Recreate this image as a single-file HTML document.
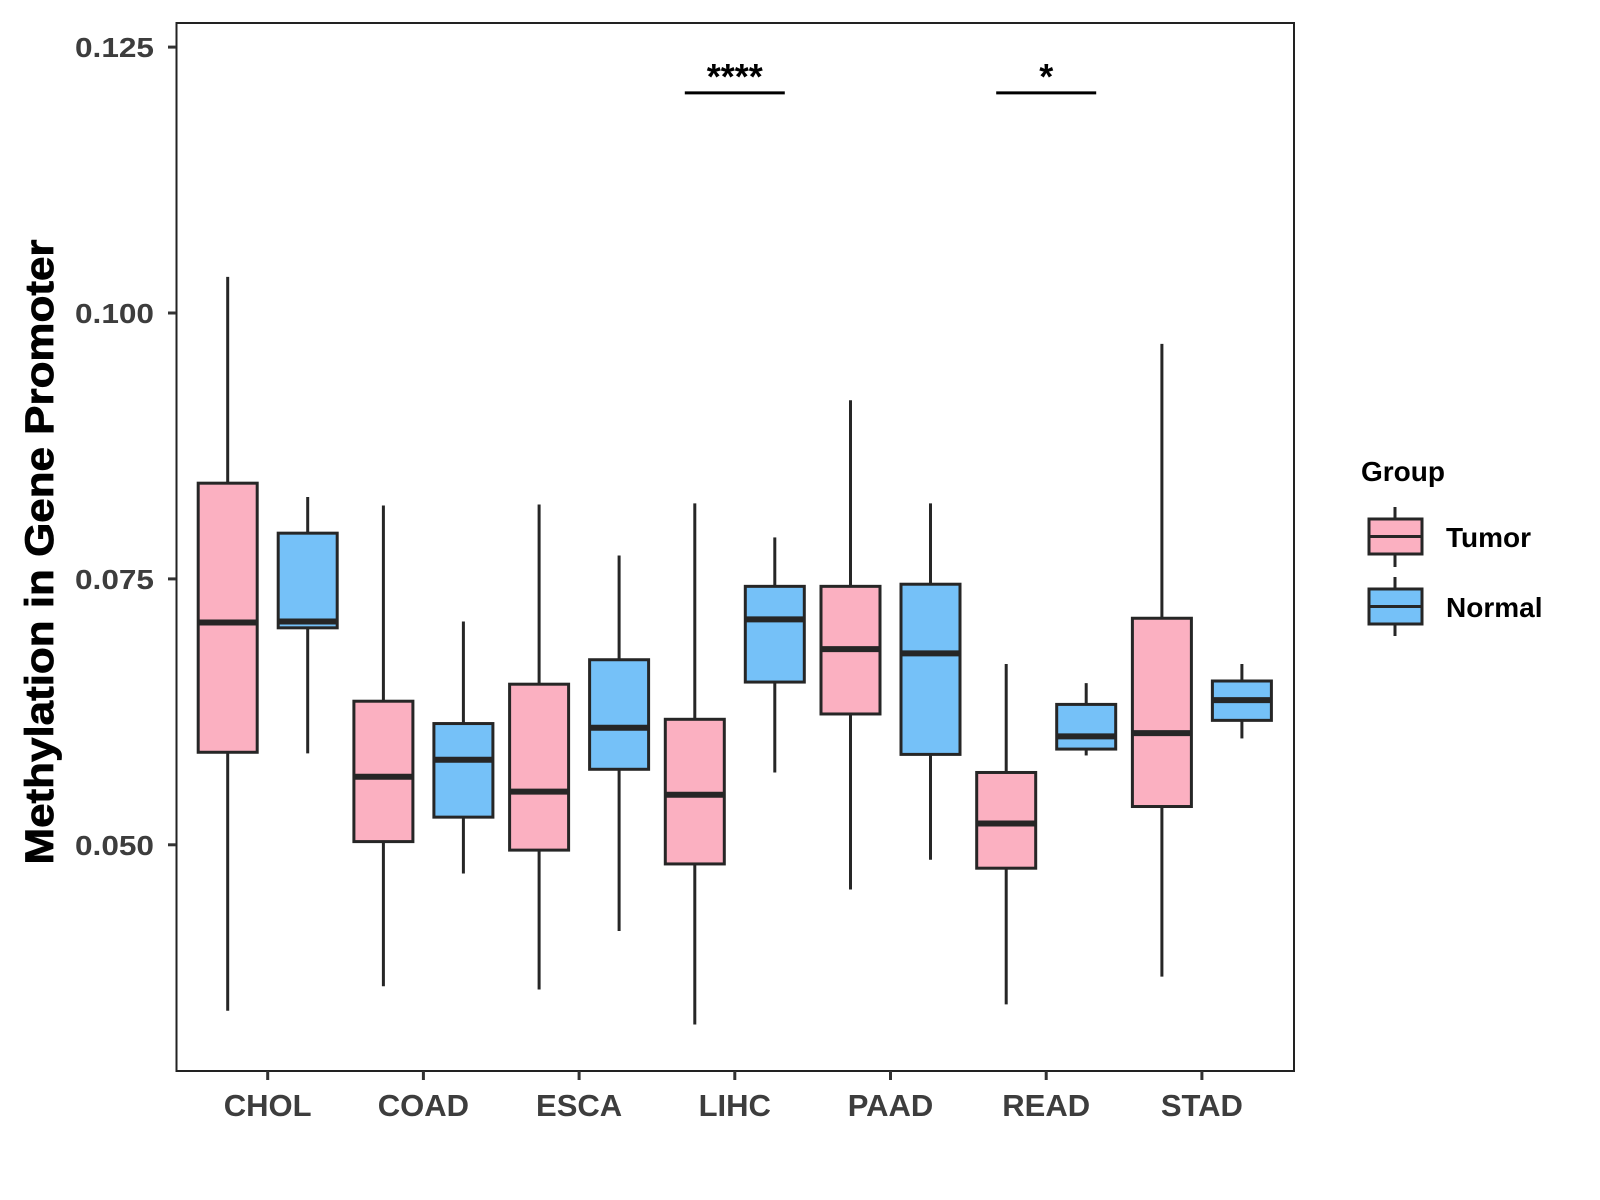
<!DOCTYPE html>
<html><head><meta charset="utf-8"><style>
html,body{margin:0;padding:0;background:#fff}
svg{display:block;font-family:"Liberation Sans",sans-serif}
</style></head><body>
<svg id="chart" width="1600" height="1200" viewBox="0 0 1600 1200">
<rect x="176.5" y="23" width="1117.5" height="1048" fill="#fff" stroke="#222" stroke-width="2"/>
<g id="marks"></g>
<g id="axes"></g>
<text transform="translate(53,552) rotate(-90)" text-anchor="middle" font-size="40" font-weight="bold" fill="#000" stroke="#000" stroke-width="0.8" textLength="625" lengthAdjust="spacingAndGlyphs">Methylation in Gene Promoter</text>
<g transform="translate(-7,-3)">
<text x="1368" y="484" font-size="28" font-weight="bold" fill="#000">Group</text>
<g>
<line x1="1402" y1="510" x2="1402" y2="570" stroke="#262626" stroke-width="3"/>
<rect x="1376" y="522" width="53" height="35" fill="#FBB0C1" stroke="#262626" stroke-width="3"/>
<line x1="1376" y1="539.5" x2="1429" y2="539.5" stroke="#262626" stroke-width="3"/>
<text x="1453" y="550" font-size="28" font-weight="bold" fill="#000">Tumor</text>
</g>
<g>
<line x1="1402" y1="580" x2="1402" y2="639" stroke="#262626" stroke-width="3"/>
<rect x="1376" y="592" width="53" height="35" fill="#75C1F8" stroke="#262626" stroke-width="3"/>
<line x1="1376" y1="609.5" x2="1429" y2="609.5" stroke="#262626" stroke-width="3"/>
<text x="1453" y="620" font-size="28" font-weight="bold" fill="#000">Normal</text>
</g>
</g>
<g id="sig"></g>
</svg>
<script>
const categories = ["CHOL","COAD","ESCA","LIHC","PAAD","READ","STAD"];
const groups = ["Tumor","Normal"];
// [low whisker, q1, median, q3, high whisker]
const tumorStats = [
 [0.0344,0.0587,0.0709,0.0840,0.1034],
 [0.0367,0.0503,0.0564,0.0635,0.0819],
 [0.0364,0.0495,0.0550,0.0651,0.0820],
 [0.0331,0.0482,0.0547,0.0618,0.0821],
 [0.0458,0.0623,0.0684,0.0743,0.0918],
 [0.0350,0.0478,0.0520,0.0568,0.0670],
 [0.0376,0.0536,0.0605,0.0713,0.0971]
];
const normalStats = [
 [0.0586,0.0704,0.0710,0.0793,0.0827],
 [0.0473,0.0526,0.0580,0.0614,0.0710],
 [0.0419,0.0571,0.0610,0.0674,0.0772],
 [0.0568,0.0653,0.0712,0.0743,0.0789],
 [0.0486,0.0585,0.0680,0.0745,0.0821],
 [0.0584,0.0590,0.0602,0.0632,0.0652],
 [0.0600,0.0617,0.0636,0.0654,0.0670]
];
const yTicks = [0.050,0.075,0.100,0.125];
const yTickLabels = ["0.050","0.075","0.100","0.125"];
const sigCategories = ["LIHC","READ"];
const sigLabels = ["****","*"];
const sigValue = 0.1207;

const NS="http://www.w3.org/2000/svg";
function y(v){ return 844.8 - (v-0.05)/0.025*265.9; }
function x(i){ return 267.7 + i*155.7; }
const dodge = 40, bw = 59;
const colors = ["#FBB0C1","#75C1F8"];
const stroke = "#262626";
function mk(tag, attrs, parent){ const e=document.createElementNS(NS,tag); for(const k in attrs) e.setAttribute(k,attrs[k]); parent.appendChild(e); return e; }
const marks=document.getElementById('marks'), axes=document.getElementById('axes'), sig=document.getElementById('sig');
[tumorStats, normalStats].forEach((stats,gi)=>{
  stats.forEach((s,i)=>{
    const cx = x(i) + (gi===0?-dodge:dodge);
    const g = mk('g',{},marks);
    
    
    mk('line',{x1:cx,x2:cx,y1:y(s[4]),y2:y(s[3]),stroke:stroke,'stroke-width':3},g);
    mk('line',{x1:cx,x2:cx,y1:y(s[1]),y2:y(s[0]),stroke:stroke,'stroke-width':3},g);
    mk('rect',{x:cx-bw/2,y:y(s[3]),width:bw,height:y(s[1])-y(s[3]),fill:colors[gi],stroke:stroke,'stroke-width':3},g);
    mk('line',{x1:cx-bw/2,x2:cx+bw/2,y1:y(s[2]),y2:y(s[2]),stroke:stroke,'stroke-width':6},g);
  });
});
sigCategories.forEach((c,k)=>{
  const i = categories.indexOf(c);
  const g = mk('g',{},sig);
  
  
  mk('line',{x1:x(i)-dodge-10,x2:x(i)+dodge+10,y1:y(sigValue),y2:y(sigValue),stroke:'#000','stroke-width':3},g);
  const t = mk('text',{x:x(i),y:y(sigValue)-4,'text-anchor':'middle','font-size':36,'font-weight':'bold',fill:'#000'},g);
  t.textContent = sigLabels[k];
});
yTicks.forEach((t,i)=>{
  const yy=y(t);
  const l=mk('line',{x1:168,x2:176,y1:yy,y2:yy,stroke:'#333','stroke-width':3},axes);
  
  
  const tx=mk('text',{x:154,y:yy+10,'text-anchor':'end','font-size':28,'font-weight':'bold',fill:'#3d3d3d',textLength:79,lengthAdjust:'spacingAndGlyphs'},axes);
  tx.textContent=yTickLabels[i];
  
  
});
categories.forEach((c,i)=>{
  const xx=x(i);
  const l=mk('line',{x1:xx,x2:xx,y1:1071,y2:1080,stroke:'#333','stroke-width':3},axes);
  
  
  const tx=mk('text',{x:xx,y:1116,'text-anchor':'middle','font-size':31,'font-weight':'bold',fill:'#3d3d3d'},axes);
  tx.textContent=c;
  
  
});
</script>
</body></html>
